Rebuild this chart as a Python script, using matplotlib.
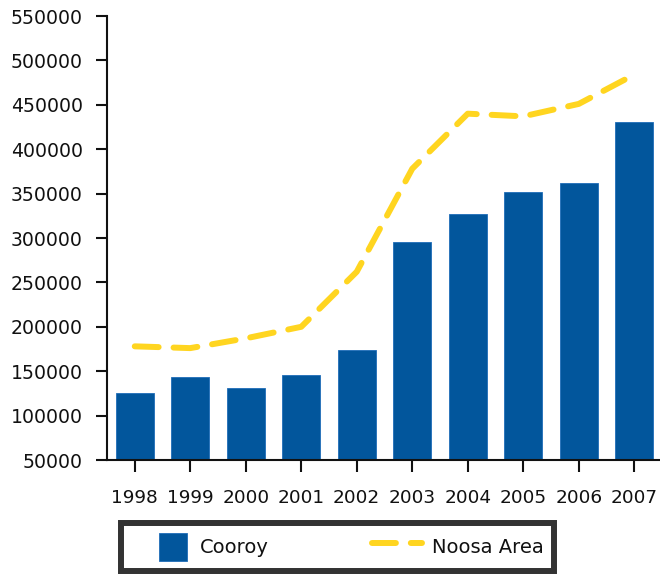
import matplotlib
matplotlib.use('Agg')
import matplotlib.pyplot as plt
import numpy as np
from matplotlib.legend_handler import HandlerPatch, HandlerLine2D
from matplotlib.patches import Rectangle

# Werte
years = ['1998', '1999', '2000', '2001', '2002', '2003', '2004', '2005', '2006', '2007']
cooroy = [126000, 144000, 131000, 146000, 174000, 296000, 327000, 352000, 362000, 431000]
noosa_area = [178000, 176000, 187000, 200000, 262000, 378000, 440000, 437000, 451000, 484000]
y_ticks = [50000, 100000, 150000, 200000, 250000, 300000, 350000, 400000, 450000, 500000, 550000]

bar_color = '#02569C'
line_color = '#FFD520'
ink = '#111111'

plt.rcParams['font.family'] = ['DejaVu Sans']

fig = plt.figure(figsize=(6.6, 5.77), dpi=100)
ax = fig.add_axes([107 / 660, 1 - 460 / 577, 555 / 660, 444 / 577])

x = np.arange(len(years))
bars = ax.bar(x, cooroy, width=0.69, color=bar_color, edgecolor='#1E6DB8', linewidth=0.6,
              label='Cooroy', zorder=2)
line, = ax.plot(x, noosa_area, color=line_color, linewidth=4.3, dashes=(4.0, 2.5),
                dash_capstyle='round', label='Noosa Area', zorder=3)

ax.set_xlim(-0.5, len(years) - 0.5)
ax.set_ylim(y_ticks[0], y_ticks[-1])
ax.set_xticks(x)
ax.set_xticklabels(years, fontsize=13.3, color=ink)
ax.set_yticks(y_ticks)
ax.set_yticklabels([str(v) for v in y_ticks], fontsize=13.6, color=ink)
ax.tick_params(axis='x', length=8.6, width=1.5, pad=12, color=ink)
ax.tick_params(axis='y', length=8, width=1.5, pad=9.4, color=ink)

for side in ['top', 'right']:
    ax.spines[side].set_visible(False)
for side in ['left', 'bottom']:
    ax.spines[side].set_linewidth(1.5)
    ax.spines[side].set_color(ink)


# Legende: Quadrat fuer die Balken, Linie rechts im Feld
def square_patch(legend, orig_handle, xdescent, ydescent, width, height, fontsize):
    return Rectangle((-xdescent + width - height - 2, -ydescent), height, height)


class LineRight(HandlerLine2D):
    def get_xdata(self, legend, xdescent, ydescent, width, height, fontsize):
        xd = [-xdescent + 6, -xdescent + width]
        return xd, xd


bar_handle = bars.patches[0]
leg = fig.legend([bar_handle, line], ['Cooroy', 'Noosa Area'], loc='upper left',
                 bbox_to_anchor=(121 / 660, 1 - 523 / 577, 433 / 660, 0),
                 bbox_transform=fig.transFigure, mode='expand',
                 ncol=2, fontsize=14, frameon=True, fancybox=False, borderaxespad=0,
                 borderpad=0.51, handlelength=3.03, handleheight=1.85, handletextpad=0.51,
                 columnspacing=4.1,
                 handler_map={bar_handle: HandlerPatch(patch_func=square_patch),
                              line: LineRight()})
leg.get_frame().set_edgecolor('black')
leg.get_frame().set_linewidth(4.3)
for t in leg.get_texts():
    t.set_color(ink)

fig.savefig('out.png', dpi=100)
